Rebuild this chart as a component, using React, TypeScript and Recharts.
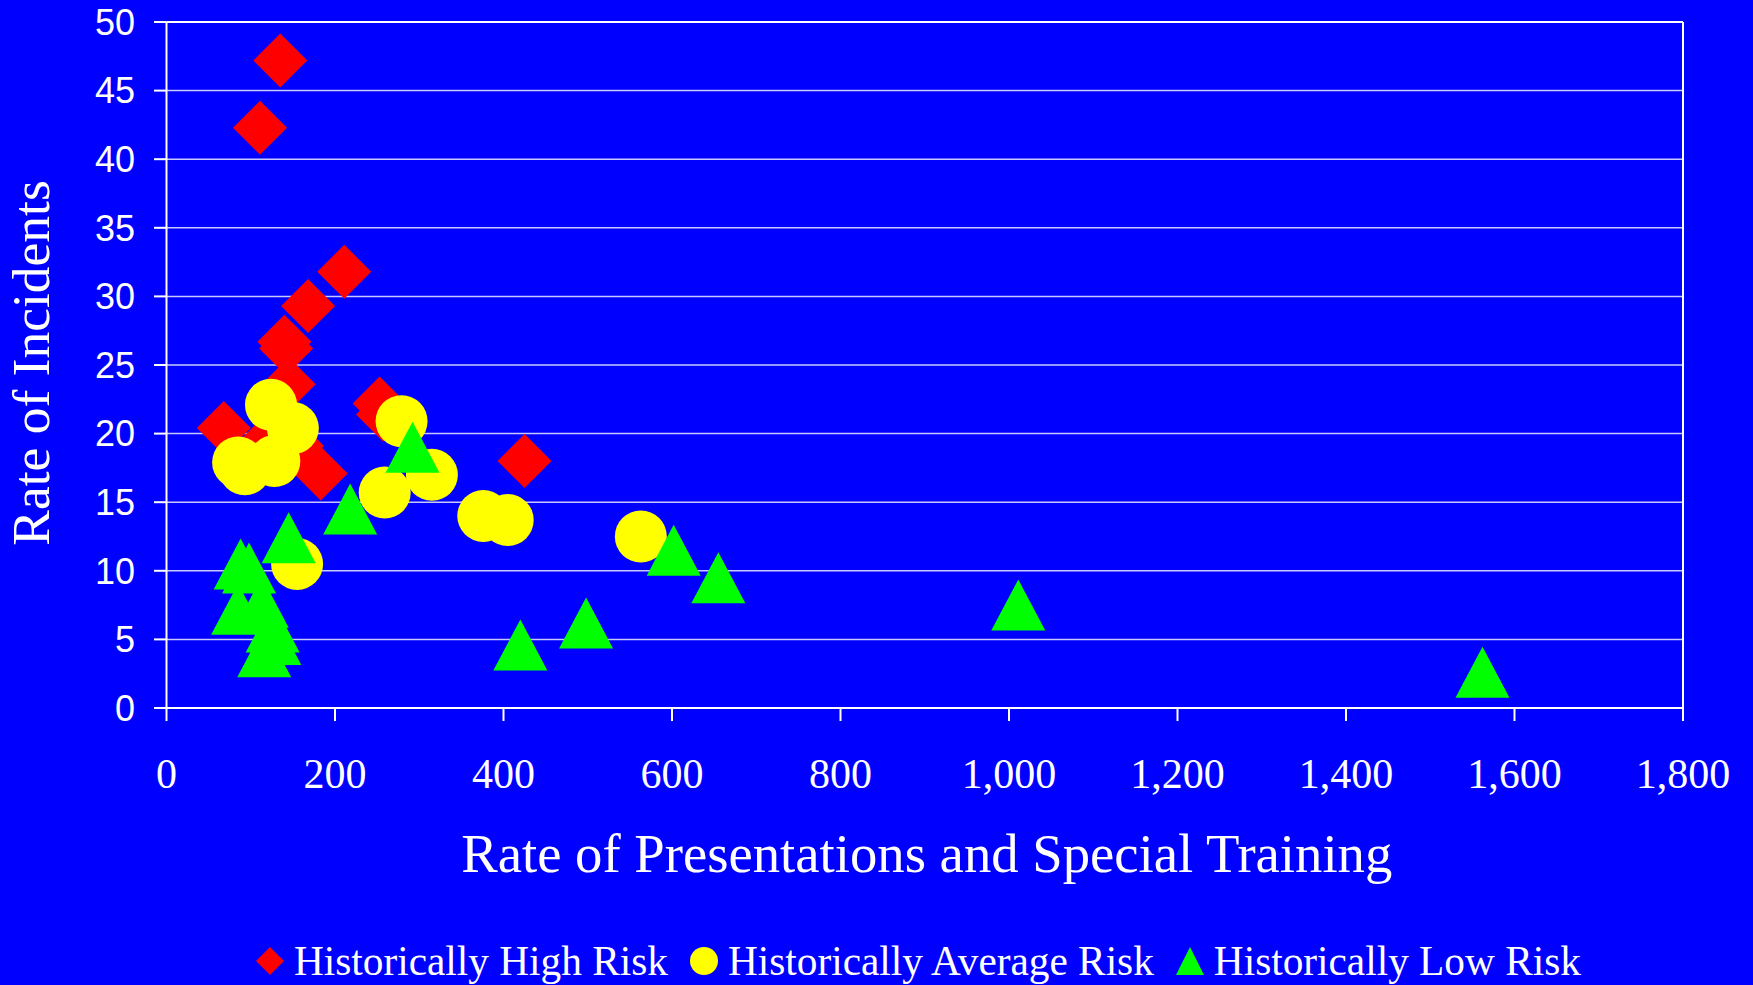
import React from "react";
import { ScatterChart, Scatter, XAxis, YAxis, CartesianGrid, ReferenceLine, Legend } from "recharts";

// values
const highRisk = [
  { x: 135, y: 47.2 }, { x: 111, y: 42.3 }, { x: 211, y: 31.8 }, { x: 168, y: 29.3 },
  { x: 140, y: 26.7 }, { x: 142, y: 26.2 }, { x: 145, y: 23.6 }, { x: 68, y: 20.4 },
  { x: 109, y: 18.9 }, { x: 155, y: 19.1 }, { x: 183, y: 17.1 }, { x: 253, y: 22.2 },
  { x: 257, y: 21.4 }, { x: 425, y: 18.0 },
];

const averageRisk = [
  { x: 124, y: 22.1 }, { x: 150, y: 20.4 }, { x: 85, y: 17.9 }, { x: 93, y: 17.4 },
  { x: 128, y: 18.0 }, { x: 279, y: 20.9 }, { x: 315, y: 17.0 }, { x: 259, y: 15.7 },
  { x: 376, y: 14.0 }, { x: 405, y: 13.7 }, { x: 155, y: 10.5 }, { x: 563, y: 12.5 },
];

const lowRisk = [
  { x: 292, y: 19.0 }, { x: 218, y: 14.5 }, { x: 145, y: 12.4 }, { x: 88, y: 10.5 },
  { x: 98, y: 10.2 }, { x: 85, y: 7.2 }, { x: 113, y: 7.7 }, { x: 126, y: 5.9 },
  { x: 128, y: 5.0 }, { x: 116, y: 4.1 }, { x: 420, y: 4.6 }, { x: 498, y: 6.2 },
  { x: 602, y: 11.5 }, { x: 655, y: 9.5 }, { x: 1011, y: 7.5 }, { x: 1562, y: 2.6 },
];

const xTicks = [0, 200, 400, 600, 800, 1000, 1200, 1400, 1600, 1800];
const yTicks = [0, 5, 10, 15, 20, 25, 30, 35, 40, 45, 50];

const BLUE = "#0000FF";
const RED = "#FF0000";
const YELLOW = "#FFFF00";
const GREEN = "#00FF00";
const SERIF = '"Liberation Serif", "Times New Roman", serif';
const SANS = '"Liberation Sans", Arial, sans-serif';

const Diamond = (props: any) => {
  const { cx, cy } = props;
  const r = 27;
  return <polygon points={`${cx},${cy - r} ${cx + r},${cy} ${cx},${cy + r} ${cx - r},${cy}`} fill={RED} />;
};

const Dot = (props: any) => <circle cx={props.cx} cy={props.cy} r={26} fill={YELLOW} />;

const Triangle = (props: any) => {
  const { cx, cy } = props;
  const w = 27, h = 25.5;
  return <polygon points={`${cx},${cy - h} ${cx + w},${cy + h} ${cx - w},${cy + h}`} fill={GREEN} />;
};

const XTitle = (props: any) => {
  const vb = props.viewBox;
  return (
    <text x={vb.x + vb.width / 2 + 2} y={vb.y + 164} textAnchor="middle" fill="#fff" fontSize={54.7} fontFamily={SERIF}>
      Rate of Presentations and Special Training
    </text>
  );
};

const YTitle = (props: any) => {
  const vb = props.viewBox;
  const x = vb.x + 49;
  const y = vb.y + vb.height / 2 - 2;
  return (
    <text x={x} y={y} transform={`rotate(-90 ${x} ${y})`} textAnchor="middle" fill="#fff" fontSize={53.5} fontFamily={SERIF}>
      Rate of Incidents
    </text>
  );
};

const legendItems = [
  { name: "Historically High Risk", icon: <polygon points="15,1 29,15 15,29 1,15" fill={RED} /> },
  { name: "Historically Average Risk", icon: <circle cx={15} cy={15} r={14} fill={YELLOW} /> },
  { name: "Historically Low Risk", icon: <polygon points="15,1 29,29 1,29" fill={GREEN} /> },
];

const RiskLegend = () => (
  <div style={{ display: "flex", alignItems: "center", paddingLeft: 255, fontFamily: SERIF, fontSize: 41.3, lineHeight: "48px", color: "#fff" }}>
    {legendItems.map((it) => (
      <div key={it.name} style={{ display: "flex", alignItems: "center", marginRight: 21 }}>
        <svg width={30} height={30} style={{ marginRight: 9 }}>{it.icon}</svg>
        <span>{it.name}</span>
      </div>
    ))}
  </div>
);

export default function App() {
  return (
    <div style={{ position: "absolute", left: 0, top: 0, width: 1753, height: 985, background: BLUE }}>
      <ScatterChart width={1753} height={985} margin={{ top: 22, right: 70, bottom: 0, left: 0 }}>
        <CartesianGrid horizontal vertical={false} stroke="#C8C8FF" strokeWidth={1.5} />
        <XAxis
          type="number"
          dataKey="x"
          domain={[0, 1800]}
          ticks={xTicks}
          interval={0}
          height={277}
          tickSize={13}
          tickMargin={37}
          tickFormatter={(v: number) => v.toLocaleString("en-US")}
          stroke="#fff"
          strokeWidth={2}
          tick={{ fill: "#fff", fontSize: 42, fontFamily: SERIF }}
          label={<XTitle />}
        />
        <YAxis
          type="number"
          dataKey="y"
          domain={[0, 50]}
          ticks={yTicks}
          interval={0}
          width={166.5}
          tickSize={12.5}
          tickMargin={19}
          stroke="#fff"
          strokeWidth={2}
          tick={{ fill: "#fff", fontSize: 36, fontFamily: SANS }}
          label={<YTitle />}
        />
        <ReferenceLine y={50} stroke="#fff" strokeWidth={2} />
        <ReferenceLine x={1800} stroke="#fff" strokeWidth={2} />
        <Legend
          layout="horizontal"
          verticalAlign="middle"
          align="center"
          content={<RiskLegend />}
          wrapperStyle={{ top: 937, left: 0, width: 1753, height: 48 }}
        />
        <Scatter name="Historically High Risk" data={highRisk} shape={<Diamond />} isAnimationActive={false} />
        <Scatter name="Historically Average Risk" data={averageRisk} shape={<Dot />} isAnimationActive={false} />
        <Scatter name="Historically Low Risk" data={lowRisk} shape={<Triangle />} isAnimationActive={false} />
      </ScatterChart>
    </div>
  );
}
